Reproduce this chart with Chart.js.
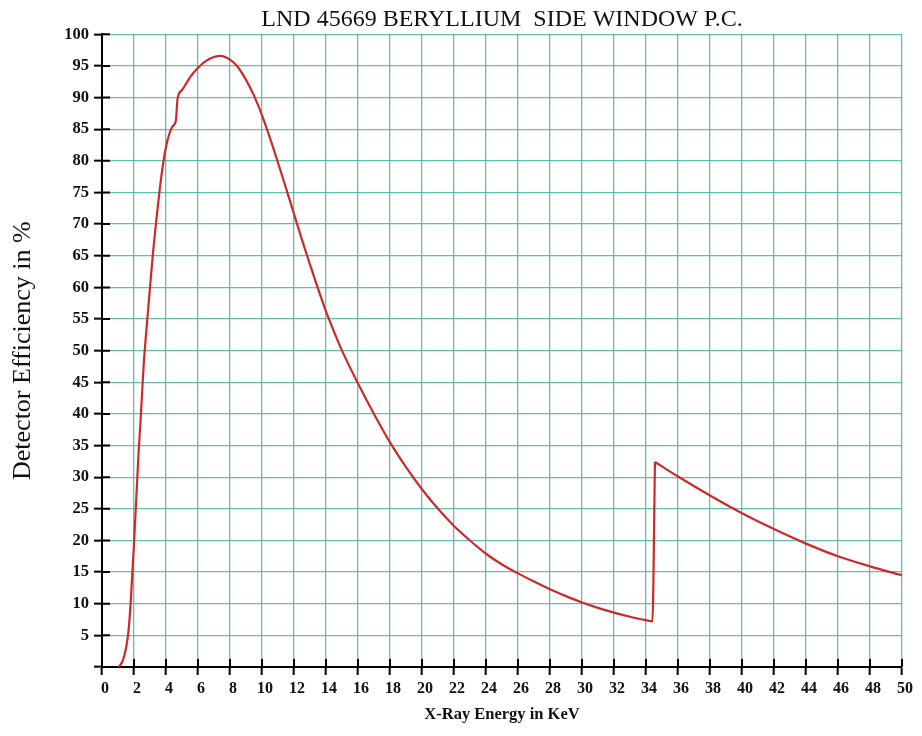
<!DOCTYPE html>
<html><head><meta charset="utf-8">
<script src="https://cdn.jsdelivr.net/npm/chart.js@4.4.1/dist/chart.umd.min.js"></script>
<style>html,body{margin:0;padding:0;background:#fff}</style>
</head><body>
<canvas id="c" width="922" height="736"></canvas>
<script>
// ---- data ----
const chartTitle = 'LND 45669 BERYLLIUM  SIDE WINDOW P.C.';
const xAxisTitle = 'X-Ray Energy in KeV';
const yAxisTitle = 'Detector Efficiency in %';

const energyKeV = [1.05,1.3,1.5,1.65,1.8,1.9,2.0,2.1,2.2,2.3,2.4,2.5,2.6,2.7,2.8,3.0,3.2,3.4,3.6,3.8,4.0,4.2,4.4,4.62,4.72,5.0,5.5,6.0,6.5,7.0,7.4,8.0,8.5,9.0,9.5,10.0,10.5,11.0,11.5,12.0,12.5,13.0,13.5,14.0,14.5,15.0,16.0,17.0,18.0,19.0,20.0,21.0,22.0,23.0,24.0,25.0,26.0,27.0,28.0,29.0,30.0,31.0,32.0,33.0,34.0,34.4,34.56,36,38,40,42,44,46,48,50];
const efficiencyPct = [0,1,3,5.5,10.5,15,19.5,24.5,29.5,34.5,38.5,43,47.5,51,54,60,65.8,70.8,75.3,79.2,82.2,84.2,85.4,86.4,89.8,91.2,93.2,94.7,95.8,96.4,96.6,96.0,94.8,92.8,90.3,87.2,83.6,79.7,75.7,71.6,67.5,63.6,59.8,56.2,53.0,50.0,44.8,40.0,35.5,31.6,28.1,25.0,22.3,20.0,17.9,16.2,14.8,13.5,12.3,11.2,10.2,9.35,8.6,7.95,7.4,7.2,32.4,30.1,27.1,24.3,21.8,19.5,17.5,15.9,14.5];
const kEdgeKeV = 34.56; // the curve jumps up here

const xTickValues = [0,2,4,6,8,10,12,14,16,18,20,22,24,26,28,30,32,34,36,38,40,42,44,46,48,50];
const yTickValues = [0,5,10,15,20,25,30,35,40,45,50,55,60,65,70,75,80,85,90,95,100];

const points = energyKeV.map((x, i) => ({x, y: efficiencyPct[i]}));
const beforeEdge = points.filter(p => p.x <= kEdgeKeV);
const afterEdge = points.filter(p => p.x >= kEdgeKeV);

const GRID = 'rgba(70,180,160,0.85)';
const RED = '#cc2a2a';
const SERIF = '"Liberation Serif", "DejaVu Serif", serif';

const innerTicks = {
  id: 'innerTicks',
  afterDraw(chart) {
    const {ctx, chartArea: a, scales: {x, y}} = chart;
    ctx.save();
    ctx.strokeStyle = '#000';
    ctx.lineWidth = 2;
    ctx.beginPath();
    x.ticks.forEach(t => { const px = x.getPixelForValue(t.value); ctx.moveTo(px, a.bottom); ctx.lineTo(px, a.bottom - 8); });
    y.ticks.forEach(t => { const py = y.getPixelForValue(t.value); ctx.moveTo(a.left, py); ctx.lineTo(a.left + 8, py); });
    ctx.stroke();
    ctx.restore();
  }
};

const lineStyle = { borderColor: RED, borderWidth: 2.2, pointRadius: 0, fill: false, cubicInterpolationMode: 'monotone' };

new Chart(document.getElementById('c'), {
  type: 'line',
  data: { datasets: [
    Object.assign({ data: beforeEdge }, lineStyle),
    Object.assign({ data: afterEdge }, lineStyle)
  ]},
  options: {
    responsive: false,
    animation: false,
    devicePixelRatio: 1,
    layout: { padding: { left: 0, right: 20, top: 0, bottom: 0 } },
    plugins: {
      legend: { display: false },
      tooltip: { enabled: false },
      title: {
        display: true, text: chartTitle, color: '#111', fullSize: false,
        font: { family: SERIF, size: 24, weight: 'normal' },
        padding: { top: 5.5, bottom: 0 }
      }
    },
    scales: {
      x: {
        type: 'linear', min: 0, max: 50,
        afterBuildTicks: s => { s.ticks = xTickValues.map(v => ({value: v})); },
        afterFit: s => { s.height = 69; },
        grid: { color: GRID, lineWidth: 1.3, tickColor: '#000', tickLength: 8, tickWidth: 2 },
        border: { color: '#000', width: 2 },
        ticks: { color: '#111', padding: 4, maxRotation: 0, autoSkip: false, labelOffset: 3,
          font: { family: SERIF, size: 16, weight: 'bold' } },
        title: { display: true, text: xAxisTitle, color: '#111',
          font: { family: SERIF, size: 16.5, weight: 'bold' }, padding: { top: 0, bottom: 11 } }
      },
      y: {
        min: 0, max: 100,
        afterBuildTicks: s => { s.ticks = yTickValues.map(v => ({value: v})); },
        afterFit: s => { s.width = 102; },
        grid: { color: GRID, lineWidth: 1.3, tickColor: '#000', tickLength: 8, tickWidth: 2 },
        border: { color: '#000', width: 2 },
        ticks: { color: '#111', padding: 5, autoSkip: false,
          callback: v => v === 0 ? '' : String(v),
          font: { family: SERIF, size: 16.5, weight: 'bold' } },
        title: { display: true, text: yAxisTitle, color: '#111',
          font: { family: SERIF, size: 26, weight: 'normal' }, padding: { top: 8, bottom: 0 } }
      }
    }
  },
  plugins: [innerTicks]
});
</script>
</body></html>
